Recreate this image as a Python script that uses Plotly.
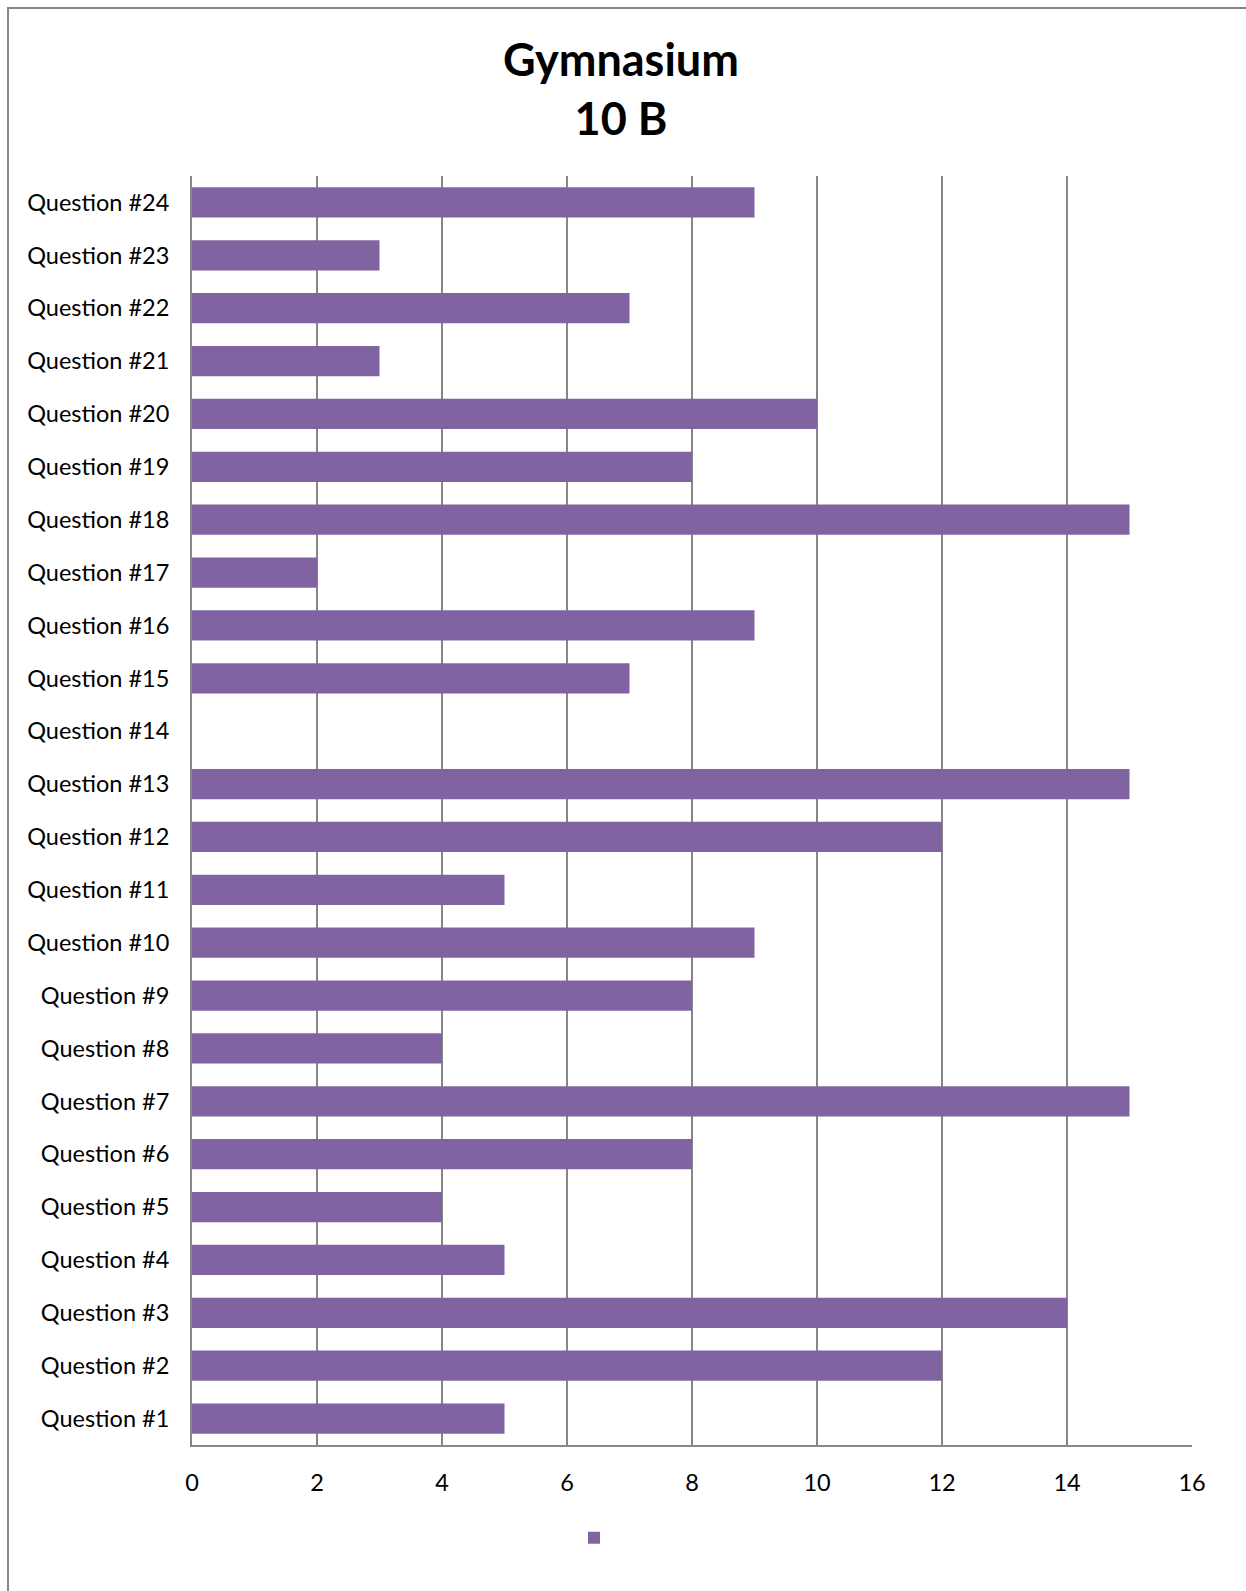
import plotly.graph_objects as go

categories = [f"Question #{i}" for i in range(1, 25)]
values = [5, 12, 14, 5, 4, 8, 15, 4, 8, 9, 5, 12, 15, 0, 7, 9, 2, 15, 8, 10, 3, 7, 3, 9]
x_ticks = [0, 2, 4, 6, 8, 10, 12, 14, 16]

W, H = 1246, 1591
L, R, T, B = 192, 54, 176, 146

fig = go.Figure()
fig.add_trace(go.Bar(
    y=categories, x=values, orientation="h",
    marker=dict(color="#8064A2", line=dict(width=0)),
    name="", showlegend=True,
))

pw = W - L - R
ph = H - T - B
fig.update_layout(
    width=W, height=H,
    margin=dict(l=L, r=R, t=T, b=B),
    paper_bgcolor="white", plot_bgcolor="white",
    font=dict(family="Lato, 'Open Sans', sans-serif", size=23, color="black"),
    title=dict(text="<b>Gymnasium</b><br><b>10 B</b>", x=621 / W, xanchor="center",
               y=1 - 76 / H, yanchor="middle", font=dict(size=45, color="black")),
    bargap=0.43,
    showlegend=True,
    legend=dict(orientation="h", x=(574 - L) / pw, xanchor="left", y=-(1538 - (T + ph)) / ph,
                yanchor="middle", font=dict(size=18)),
    xaxis=dict(range=[0, 16], tickvals=x_ticks, showgrid=True, gridcolor="#868686", gridwidth=2,
               showline=True, linecolor="#868686", linewidth=2, zeroline=False, ticks="",
               tickfont=dict(size=23.5), ticklabelstandoff=16),
    yaxis=dict(categoryorder="array", categoryarray=categories, showline=True, linecolor="#868686",
               linewidth=2, ticks="", showgrid=False, tickfont=dict(size=23.5), ticklabelstandoff=16),
    shapes=[dict(type="rect", xref="paper", yref="paper",
                 x0=-(L - 8) / pw, x1=(W - L + 20) / pw,
                 y0=-(B + 20) / ph, y1=1 + (T - 8) / ph,
                 line=dict(color="#868686", width=2), fillcolor="rgba(0,0,0,0)", layer="below")],
)

fig.write_html("out.html", config={"displayModeBar": False},
               post_script="document.body.style.margin='0';document.body.style.overflow='hidden';")
